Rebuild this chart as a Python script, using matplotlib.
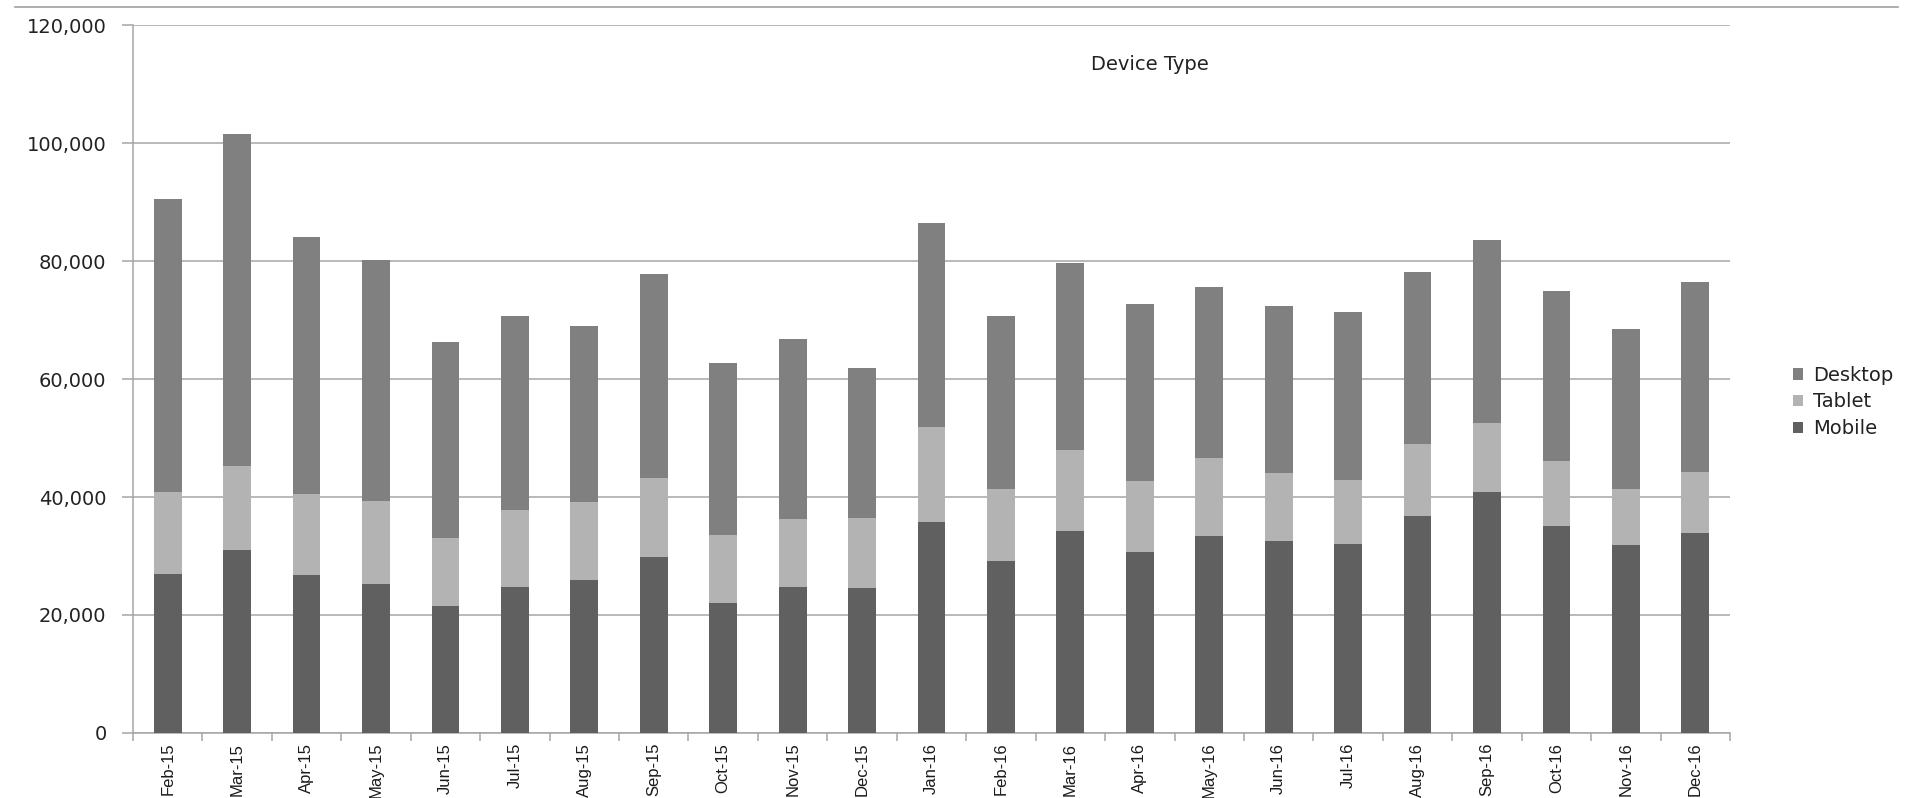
import numpy as np
from matplotlib import pyplot as plt
from matplotlib.lines import Line2D

# mois
months = ["Feb-15", "Mar-15", "Apr-15", "May-15", "Jun-15", "Jul-15", "Aug-15",
          "Sep-15", "Oct-15", "Nov-15", "Dec-15", "Jan-16", "Feb-16", "Mar-16",
          "Apr-16", "May-16", "Jun-16", "Jul-16", "Aug-16", "Sep-16", "Oct-16",
          "Nov-16", "Dec-16"]

mobile = [27000, 31000, 26800, 25200, 21500, 24800, 25900, 29800, 22000, 24800,
          24500, 35800, 29100, 34300, 30600, 33400, 32600, 32000, 36800, 40800,
          35100, 31900, 33900]
tablet = [13800, 14300, 13700, 14100, 11500, 13000, 13300, 13500, 11600, 11500,
          11900, 16100, 12200, 13600, 12100, 13200, 11500, 10800, 12200, 11800,
          11000, 9500, 10400]
desktop = [49700, 56200, 43500, 40900, 33300, 32800, 29800, 34500, 29100, 30500,
           25400, 34600, 29400, 31800, 30000, 29000, 28200, 28600, 29200, 31000,
           28800, 27100, 32200]

col_mobile = "#606060"
col_tablet = "#b3b3b3"
col_desktop = "#808080"
grid_col = "#a6a6a6"

fig = plt.figure(figsize=(19.06, 7.98), dpi=100)
ax = fig.add_axes([133/1906, 1-733/798, (1730-133)/1906, (733-25)/798])

x = np.arange(len(months))
w = 0.4
m = np.array(mobile)
t = np.array(tablet)
d = np.array(desktop)
ax.bar(x, m, w, color=col_mobile, label="Mobile", zorder=3)
ax.bar(x, t, w, bottom=m, color=col_tablet, label="Tablet", zorder=3)
ax.bar(x, d, w, bottom=m+t, color=col_desktop, label="Desktop", zorder=3)

ax.set_xlim(-0.5, len(months)-0.5)
ax.set_ylim(0, 120000)
ax.set_yticks(np.arange(0, 120001, 20000))
ax.set_yticklabels(["{:,}".format(v) for v in range(0, 120001, 20000)],
                   fontsize=14, color="#222222", family="DejaVu Sans")
ax.yaxis.grid(True, color=grid_col, lw=1.1, zorder=0)
ax.tick_params(axis="y", length=8, width=1.1, color=grid_col, pad=11)

# ticks aux limites des categories, labels au centre
ax.set_xticks(np.arange(-0.5, len(months), 1.0))
ax.set_xticklabels([])
ax.set_xticks(x, minor=True)
ax.set_xticklabels(months, minor=True, rotation=90, fontsize=12,
                   family="Liberation Sans", color="#1a1a1a")
ax.tick_params(axis="x", which="major", length=6, width=1.1, color=grid_col)
ax.tick_params(axis="x", which="minor", length=0, pad=7)

for s in ["top", "right"]:
    ax.spines[s].set_visible(False)
for s in ["left", "bottom"]:
    ax.spines[s].set_color(grid_col)
    ax.spines[s].set_linewidth(1.1)

fig.text(1150/1906, 1-65/798, "Device Type", fontsize=14, ha="center",
         va="center", color="#222222", family="DejaVu Sans")

h, l = ax.get_legend_handles_labels()
leg = fig.legend(h[::-1], l[::-1], loc="center left",
                 bbox_to_anchor=(1783/1906, 1-402/798), frameon=False,
                 fontsize=14, handlelength=0.55, handleheight=0.55,
                 handletextpad=0.5, labelspacing=0.4, borderpad=0)
for txt in leg.get_texts():
    txt.set_color("#222222")

# bord du cadre en haut
fig.add_artist(Line2D([0.008, 0.996], [1-7/798, 1-7/798], color="#a0a0a0",
                      lw=1.2, transform=fig.transFigure))

plt.savefig("out.png", dpi=100)
